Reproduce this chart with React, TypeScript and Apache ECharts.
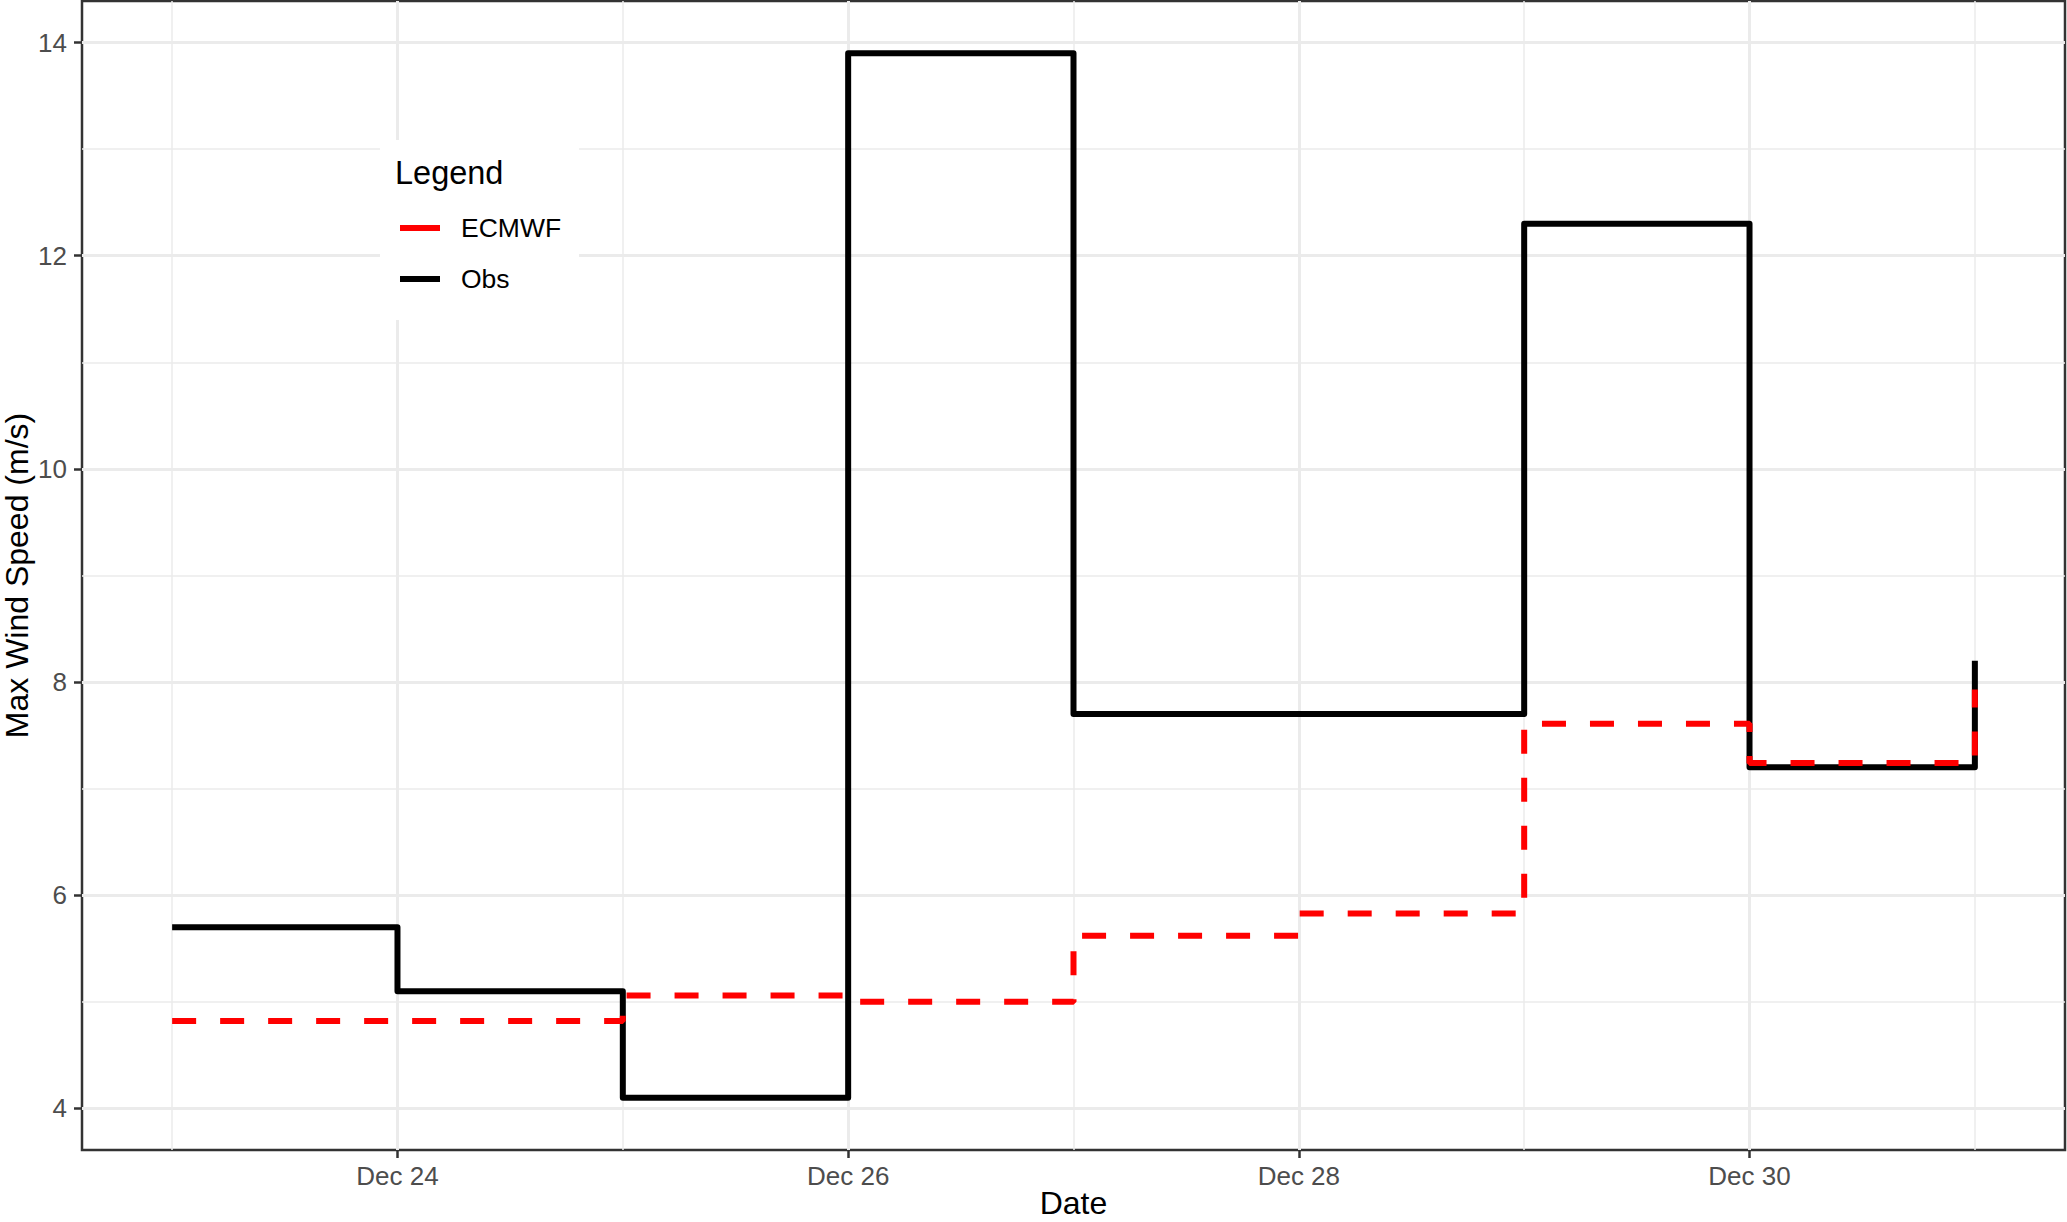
import React, { useEffect, useRef } from "react";
import * as echarts from "echarts";

// ---- data ----
const days = [23, 24, 25, 26, 27, 28, 29, 30, 31];
const obs = [5.7, 5.1, 4.1, 13.9, 7.7, 7.7, 12.3, 7.2, 8.2];
const ecmwf = [4.82, 4.82, 5.06, 5.0, 5.62, 5.83, 7.61, 7.24, 7.93];
const xMajorTicks = [24, 26, 28, 30];
const xMinorTicks = [23, 25, 27, 29, 31];
const yMajorTicks = [4, 6, 8, 10, 12, 14];
const yMinorTicks = [5, 7, 9, 11, 13];
const monthLabel = "Dec";

const FONT = "'Liberation Sans', Arial, Helvetica, sans-serif";
const GRID_COLOR = "#EBEBEB";
const INK = "#333333";

function expand(vals: number[]): [number, number] {
  const lo = Math.min(...vals);
  const hi = Math.max(...vals);
  const pad = (hi - lo) * 0.05;
  return [lo - pad, hi + pad];
}

export default function App() {
  const ref = useRef<HTMLDivElement | null>(null);

  useEffect(() => {
    if (!ref.current) return;
    const chart = echarts.init(ref.current, null, { renderer: "svg" });
    const [xMin, xMax] = expand(days);
    const [yMin, yMax] = expand([...obs, ...ecmwf]);

    const option: any = {
      animation: false,
      backgroundColor: "#ffffff",
      textStyle: { fontFamily: FONT },
      grid: {
        left: 82,
        right: 2,
        top: 1,
        bottom: 72,
        show: true,
        borderColor: INK,
        borderWidth: 2.5,
        backgroundColor: "transparent",
        containLabel: false,
        outerBoundsMode: "none",
      },
      xAxis: [
        {
          type: "value",
          min: xMin,
          max: xMax,
          name: "Date",
          nameLocation: "middle",
          nameGap: 37,
          nameMoveOverlap: false,
          nameTextStyle: { color: "#000", fontSize: 32, fontFamily: FONT },
          axisLine: { show: false },
          axisTick: {
            show: true,
            length: 8,
            lineStyle: { color: INK, width: 2.5 },
            customValues: xMajorTicks,
          },
          axisLabel: {
            color: "#4D4D4D",
            fontSize: 26,
            fontFamily: FONT,
            margin: 13,
            customValues: xMajorTicks,
            formatter: (v: number) => `${monthLabel} ${v}`,
          },
          splitLine: { show: true, lineStyle: { color: GRID_COLOR, width: 3 } },
        },
        {
          type: "value",
          min: xMin,
          max: xMax,
          position: "top",
          axisLine: { show: false },
          axisTick: { show: false, customValues: xMinorTicks },
          axisLabel: { show: false, customValues: xMinorTicks },
          splitLine: { show: true, lineStyle: { color: GRID_COLOR, width: 1.5 } },
        },
      ],
      yAxis: [
        {
          type: "value",
          min: yMin,
          max: yMax,
          name: "Max Wind Speed (m/s)",
          nameLocation: "middle",
          nameGap: 49,
          nameMoveOverlap: false,
          nameTextStyle: { color: "#000", fontSize: 32, fontFamily: FONT },
          axisLine: { show: false },
          axisTick: {
            show: true,
            length: 8,
            lineStyle: { color: INK, width: 2.5 },
            customValues: yMajorTicks,
          },
          axisLabel: {
            color: "#4D4D4D",
            fontSize: 26,
            fontFamily: FONT,
            margin: 15,
            customValues: yMajorTicks,
          },
          splitLine: { show: true, lineStyle: { color: GRID_COLOR, width: 3 } },
        },
        {
          type: "value",
          min: yMin,
          max: yMax,
          position: "right",
          axisLine: { show: false },
          axisTick: { show: false, customValues: yMinorTicks },
          axisLabel: { show: false, customValues: yMinorTicks },
          splitLine: { show: true, lineStyle: { color: GRID_COLOR, width: 1.5 } },
        },
      ],
      legend: {
        data: ["ECMWF", "Obs"],
        orient: "vertical",
        left: 380,
        top: 140,
        padding: [73, 18, 26, 20],
        backgroundColor: "#ffffff",
        icon: "rect",
        itemWidth: 40,
        itemHeight: 6,
        itemGap: 21,
        selectedMode: false,
        textStyle: {
          color: "#000",
          fontSize: 26.5,
          fontFamily: FONT,
          lineHeight: 30,
          padding: [0, 0, 0, 16],
        },
      },
      graphic: [
        {
          type: "text",
          left: 395,
          top: 156,
          z: 100,
          style: {
            text: "Legend",
            fill: "#000",
            fontSize: 32.5,
            fontFamily: FONT,
          },
        },
      ],
      series: [
        {
          name: "Obs",
          type: "line",
          step: "end",
          xAxisIndex: 0,
          yAxisIndex: 0,
          data: days.map((d, i) => [d, obs[i]]),
          showSymbol: false,
          symbol: "none",
          color: "#000000",
          lineStyle: { color: "#000000", width: 6, join: "round" },
          z: 3,
        },
        {
          name: "ECMWF",
          type: "line",
          step: "end",
          xAxisIndex: 0,
          yAxisIndex: 0,
          data: days.map((d, i) => [d, ecmwf[i]]),
          showSymbol: false,
          symbol: "none",
          color: "#FF0000",
          lineStyle: { color: "#FF0000", width: 6, type: [24, 24] },
          z: 4,
        },
      ],
    };
    chart.setOption(option);
    return () => chart.dispose();
  }, []);

  return (
    <div
      ref={ref}
      style={{ position: "absolute", left: 0, top: 0, width: 2067, height: 1222 }}
    />
  );
}
